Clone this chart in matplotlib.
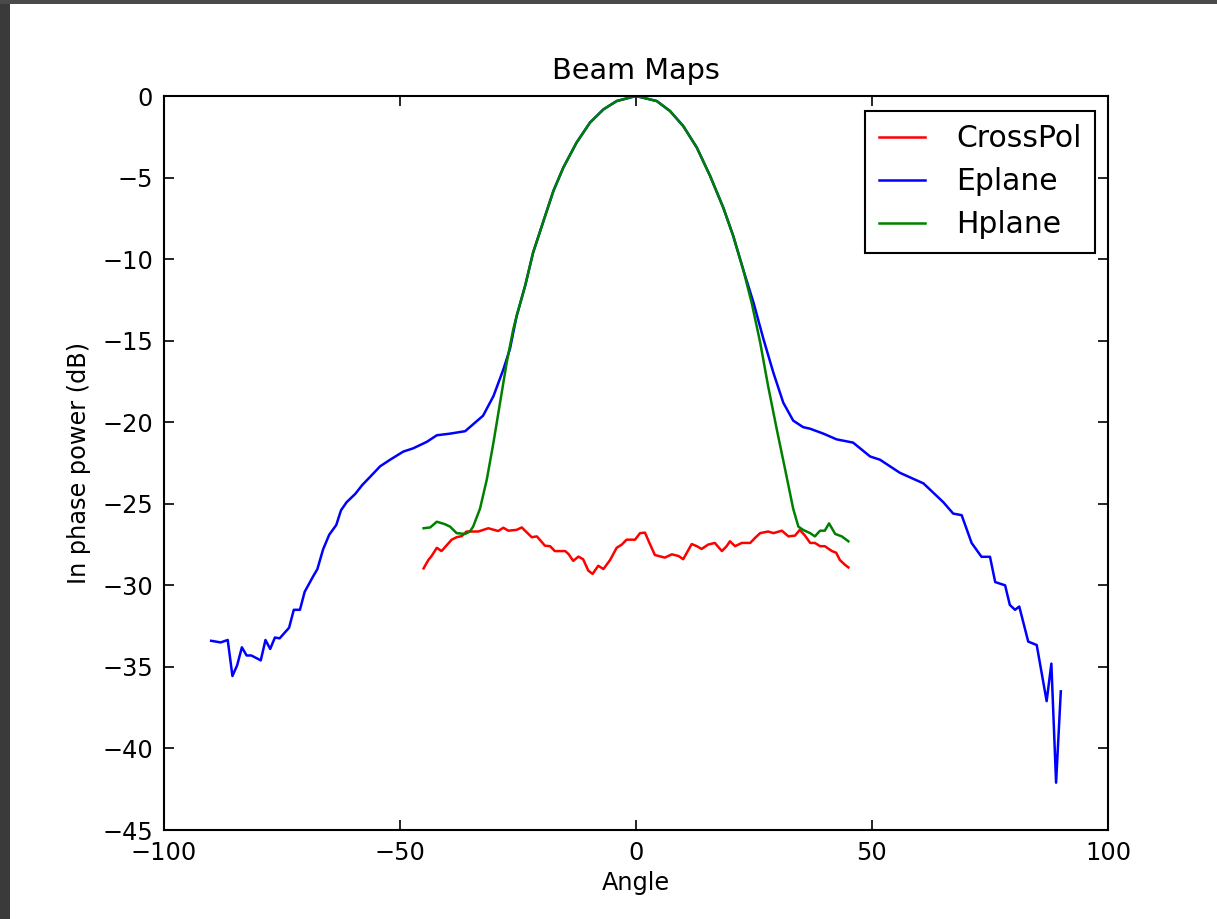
import numpy as np
import matplotlib
matplotlib.use("Agg")
import matplotlib.pyplot as plt
from matplotlib.patches import Rectangle

# ---- data ----
e_angle = [-90, -88, -86.5, -85.5, -84.5, -83.5, -82.5, -81.5, -79.5, -78.5, -77.5, -76.5,
           -75.5, -73.5, -72.5, -71.2, -70.2, -68.5, -67.5, -66.3, -65, -63.5, -62.5, -61.3,
           -59.5, -58, -56.5, -54.2, -52.1, -49.3, -47.2, -44.3, -42.2, -39.4, -36.2, -35.2,
           -32.4, -30.2, -28.1, -26.7, -25.3, -23.5, -21.8, -19.6, -17.5, -15.4, -12.6, -9.75,
           -6.9, -4.1, 0, 4.4, 7.2, 10, 12.9, 15.7, 18.5, 20.6, 22.7, 24.9, 27, 29.1, 31.2,
           33.3, 35.4, 36.9, 39.7, 42.5, 46, 49.6, 51.7,
           55.9, 60.9, 65.1, 67.2, 69, 71.1, 73.2, 75, 76.1, 78.2, 79.2, 80.3, 81.2, 83.1,
           84.9, 87, 88, 89, 90]
e_power = [-33.4, -33.5, -33.35, -35.56, -34.9, -33.8, -34.3, -34.3, -34.6, -33.35, -33.9, -33.2,
           -33.25, -32.6, -31.5, -31.5, -30.4, -29.5, -29.0, -27.8, -26.9, -26.3, -25.4, -24.9,
           -24.4, -23.85, -23.4, -22.7, -22.3, -21.8, -21.6, -21.2, -20.8, -20.7, -20.55, -20.3,
           -19.6, -18.4, -16.76, -15.5, -13.5, -11.65, -9.6, -7.66, -5.82, -4.39, -2.86, -1.63,
           -0.82, -0.31, 0.0, -0.31, -0.92, -1.84, -3.17, -4.9, -6.85, -8.58, -10.63, -12.67, -14.9, -16.96, -18.8,
           -19.9, -20.3, -20.4, -20.7, -21.05, -21.25, -22.1, -22.3,
           -23.1, -23.75, -24.9, -25.6, -25.7, -27.4, -28.25, -28.25, -29.8, -30.0, -31.2, -31.5, -31.3, -33.45,
           -33.66, -37.1, -34.8, -42.1, -36.5]

h_angle = [-45, -43.6, -42.2, -40.5, -39.4, -38, -36.2, -35.2, -34.5, -33.05, -31.6, -30.2, -28.8,
           -27.4, -26, -25.3, -23.5, -21.8, -19.6, -17.5, -15.4, -12.6, -9.75, -6.9, -4.1, 0,
           4.4, 7.2, 10, 12.9, 15.7, 18.5, 20.6, 22.7, 24.5, 26.3, 28, 29.8, 31.6, 33.3, 34.4,
           35.4, 36.9, 37.9, 39, 40, 40.9, 42.2, 43.6, 45]
h_power = [-26.5, -26.45, -26.1, -26.25, -26.4, -26.8, -26.85, -26.7, -26.4, -25.3, -23.5, -21.25, -18.8,
           -16.35, -14.3, -13.5, -11.65, -9.6, -7.66, -5.82, -4.39, -2.86, -1.63, -0.82, -0.31, 0.0,
           -0.31, -0.92, -1.84, -3.17, -4.9, -6.85, -8.58, -10.63, -12.67, -15.1, -17.8, -20.4, -22.9, -25.3, -26.4,
           -26.6, -26.8, -27.0, -26.65, -26.65, -26.2, -26.85, -27.0, -27.3]

c_angle = [-45, -44, -43.3, -42.2, -41.2, -39.05, -38, -36.9, -35.9, -33.4, -31.3, -29.2, -28.1,
           -27.05, -25.3, -24.2, -22.1, -21, -19.3, -18.2, -17.2, -15, -14.3, -13.3, -12.2, -11.2,
           -10.1, -9.2, -8, -6.9, -5.5, -4.1, -3, -2, -0.2, 0.85, 1.9, 3, 4, 6.1, 7.6, 9, 10,
           11.8, 12.9, 13.9, 15.3, 16.7, 18.2, 19.2, 19.9, 21, 22.4, 24.2, 25.2, 26.3, 28, 29.1,
           30.9, 32.3, 33.7, 34.7, 35.8, 36.9, 37.9, 39, 40, 41.5, 42.4, 43.2, 44.3, 45]
c_power = [-28.96, -28.45, -28.2, -27.7, -27.9, -27.2, -27.05, -26.98, -26.7, -26.7, -26.5, -26.67, -26.47,
           -26.65, -26.6, -26.45, -27.05, -27.0, -27.57, -27.6, -27.9, -27.9, -28.08, -28.5, -28.24, -28.4,
           -29.1, -29.3, -28.8, -29.0, -28.45, -27.7, -27.5, -27.2, -27.2, -26.8, -26.77, -27.5, -28.14,
           -28.3, -28.1, -28.2, -28.4, -27.47, -27.6, -27.77, -27.5, -27.4, -27.9, -27.6, -27.3, -27.6,
           -27.4, -27.4, -27.1, -26.8, -26.7, -26.8, -26.65, -27.0, -26.95, -26.6, -26.95, -27.4, -27.4,
           -27.6, -27.6, -27.9, -28.0, -28.45, -28.75, -28.9]

x_ticks = [-100, -50, 0, 50, 100]
y_ticks = [0, -5, -10, -15, -20, -25, -30, -35, -40, -45]

# ---- figure ----
W, H = 1217, 919
fig = plt.figure(figsize=(W / 100, H / 100), dpi=100)
fig.patch.set_facecolor("white")
fig.patches.append(Rectangle((0, 0), 10 / W, 1, transform=fig.transFigure,
                             facecolor="#3a3a3a", edgecolor="none", zorder=-10))
fig.patches.append(Rectangle((0, 1 - 4 / H), 1, 4 / H, transform=fig.transFigure,
                             facecolor="#4a4a4a", edgecolor="none", zorder=-10))

ax = fig.add_axes([164 / W, 1 - 830 / H, (1108 - 164) / W, (830 - 96) / H])

lw = 1.8
ax.plot(c_angle, c_power, color="#ff0000", lw=lw, label="CrossPol")
ax.plot(e_angle, e_power, color="#0000ff", lw=lw, label="Eplane")
ax.plot(h_angle, h_power, color="#008000", lw=lw, label="Hplane")

ax.set_xlim(-100, 100)
ax.set_ylim(-45, 0)
ax.set_xticks(x_ticks)
ax.set_yticks(y_ticks)

fs = 17.3
ax.tick_params(direction="in", length=7, width=1.2, top=True, right=True,
               labelsize=fs, pad=8, colors="black")
for s in ax.spines.values():
    s.set_linewidth(1.5)
    s.set_color("black")

ax.set_title("Beam Maps", fontsize=20.7, pad=12)
ax.set_xlabel("Angle", fontsize=fs, labelpad=4)
ax.set_ylabel("In phase power (dB)", fontsize=fs, labelpad=8)

leg = ax.legend(loc="upper right", bbox_to_anchor=(0.9862, 0.9796), borderaxespad=0,
                fontsize=21.5, fancybox=False, framealpha=1, edgecolor="black",
                handlelength=1.55, handletextpad=1.05, labelspacing=0.47, borderpad=0.45)
leg.get_frame().set_linewidth(1.5)

fig.savefig("out.png", dpi=100)
